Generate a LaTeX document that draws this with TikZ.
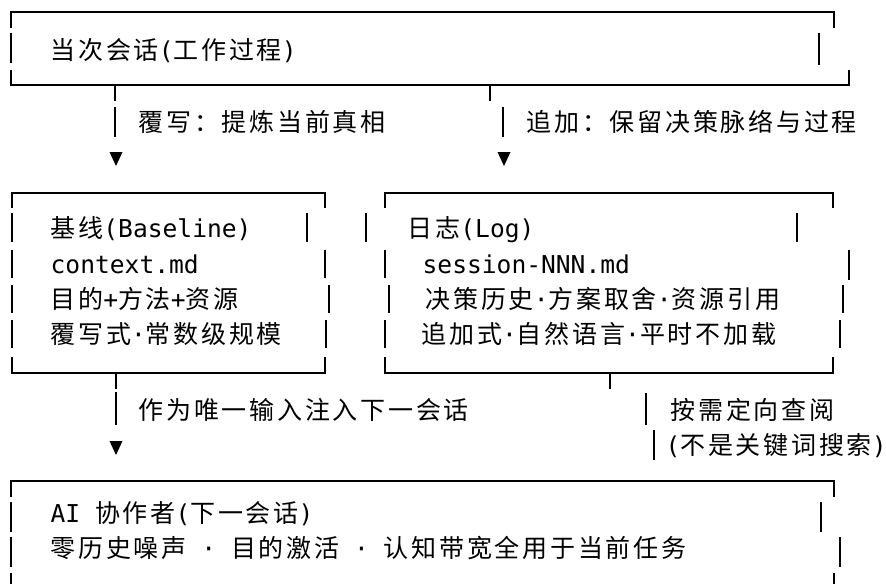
\documentclass[tikz,border=0pt]{standalone}
\usepackage{fontspec}
\newfontfamily\monofont{DejaVu Sans Mono}
\newfontfamily\zhfont[LetterSpace=11]{Noto Sans CJK SC}
\newcommand\zh[1]{{\zhfont\fontsize{25pt}{30pt}\selectfont #1}}
\newcommand\downtri[1]{\fill (#1) ++(-6.5,-7) -- ++(13,0) -- ++(-6.5,14) -- cycle;}
\begin{document}
\begin{tikzpicture}[x=1pt,y=-1pt,line width=1.3pt]
    \useasboundingbox (0,0) rectangle (886,584);
    % box corners and borders
    \draw (11,28) -- (11,12) -- (834,12) -- (834,28);
    \draw (11,70) -- (11,85) -- (849,85) -- (849,70);
    \draw (12,208) -- (12,193) -- (325,193) -- (325,208);
    \draw (12,357) -- (12,373) -- (325,373) -- (325,357);
    \draw (385,208) -- (385,193) -- (833,193) -- (833,208);
    \draw (385,357) -- (385,373) -- (833,373) -- (833,357);
    \draw (11,497) -- (11,481) -- (834,481) -- (834,497);
    \draw (11,573) -- (11,584);
    \draw (834,573) -- (834,584);
    % side bars, one per text row
    \foreach \x/\ya/\yb in {11/33/63, 819/33/65,
            12/213/242, 12/250/278, 12/285/313, 12/320/348,
            307/213/242, 325/250/278, 329/285/313, 326/320/348,
            366/213/242, 385/250/278, 389/285/313, 385/320/348,
            797/213/242, 849/250/280, 843/285/313, 840/320/348,
            11/502/532, 11/537/567, 821/502/532, 840/537/567}
        \draw (\x,\ya) -- (\x,\yb);
    % texts
    \begin{scope}[every node/.style={anchor=base west,inner sep=0pt,
            font=\monofont\fontsize{24.6pt}{30pt}\selectfont}]
        \node (session) at (50,59) {\zh{当次会话}(\zh{工作过程})};
        \node (rewrite) at (138,131) {\zh{覆写：提炼当前真相}};
        \node (append) at (526,131) {\zh{追加：保留决策脉络与过程}};
        \node (base1) at (50,237) {\zh{基线}(Baseline)};
        \node (base2) at (50,273) {context.md};
        \node (base3) at (50,308) {\zh{目的}+\zh{方法}+\zh{资源}};
        \node (base4) at (50,343) {\zh{覆写式}·\zh{常数级规模}};
        \node (log1) at (407,237) {\zh{日志}(Log)};
        \node (log2) at (422,273) {session-NNN.md};
        \node (log3) at (425,308) {\zh{决策历史}·\zh{方案取舍}·\zh{资源引用}};
        \node (log4) at (421,343) {\zh{追加式}·\zh{自然语言}·\zh{平时不加载}};
        \node (inject) at (138,419) {\zh{作为唯一输入注入下一会话}};
        \node (lookup1) at (670,419) {\zh{按需定向查阅}};
        \node (lookup2) at (665,454) {(\zh{不是关键词搜索})};
        \node (ai1) at (50,522) {AI \zh{协作者}(\zh{下一会话})};
        \node (ai2) at (50,557) {\zh{零历史噪声} · \zh{目的激活} · \zh{认知带宽全用于当前任务}};
    \end{scope}
    % connectors
    \coordinate (rw1) at (115,85);  \coordinate (rw2) at (115,101);
    \coordinate (rw3) at (115,107); \coordinate (rw4) at (115,137);
    \coordinate (rw5) at (116,159);
    \coordinate (ap1) at (490,85);  \coordinate (ap2) at (490,101);
    \coordinate (ap3) at (503,107); \coordinate (ap4) at (503,137);
    \coordinate (ap5) at (504,159);
    \coordinate (in1) at (116,373); \coordinate (in2) at (116,389);
    \coordinate (in3) at (116,392); \coordinate (in4) at (116,425);
    \coordinate (in5) at (116,448);
    \coordinate (lk1) at (610,373); \coordinate (lk2) at (610,389);
    \coordinate (lk3) at (646,393); \coordinate (lk4) at (646,425);
    \coordinate (lk5) at (654,430); \coordinate (lk6) at (654,460);
    \begin{scope}[every edge/.style={draw,line width=1.3pt}]
        \path
            (rw1) edge (rw2)
            (rw3) edge (rw4)
            (ap1) edge (ap2)
            (ap3) edge (ap4)
            (in1) edge (in2)
            (in3) edge (in4)
            (lk1) edge (lk2)
            (lk3) edge (lk4)
            (lk5) edge (lk6);
    \end{scope}
    \downtri{rw5}
    \downtri{ap5}
    \downtri{in5}
\end{tikzpicture}
\end{document}
